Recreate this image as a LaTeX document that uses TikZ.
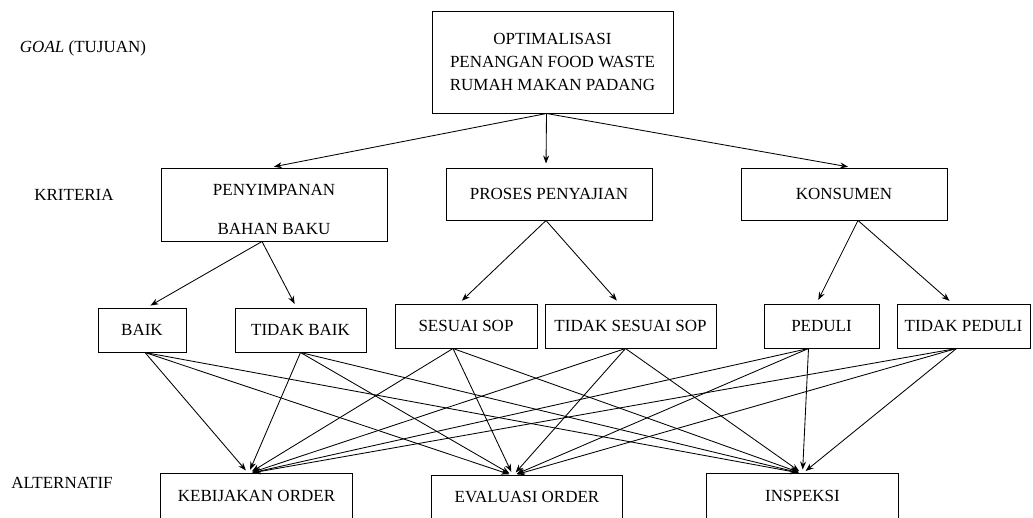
\documentclass[tikz,border=0pt]{standalone}
\usepackage{fontspec}
\setmainfont{Liberation Serif}
\usetikzlibrary{arrows.meta}

\tikzset{
  box/.style={draw, line width=1pt, inner sep=0pt, align=center,
    font=\fontsize{17}{23}\selectfont},
  lvl/.style={font=\fontsize{17}{23}\selectfont},
  link/.style={-{Stealth[length=8pt,width=6pt]}, line width=0.85pt, shorten >=4pt},
}

\begin{document}
\begin{tikzpicture}[x=1pt,y=-1pt]
  \useasboundingbox (0,0) rectangle (1033,517);

  % level names
  \node[lvl] (lgoal) at (83,48)  {\textit{GOAL} (TUJUAN)};
  \node[lvl] (lkrit) at (74,195) {KRITERIA};
  \node[lvl] (lalt)  at (62,483) {ALTERNATIF};

  % goal and criteria
  \node[box,minimum width=241pt,minimum height=102pt] (goal) at (552.5,62)
    {OPTIMALISASI\\PENANGAN FOOD WASTE\\RUMAH MAKAN PADANG};
  \node[box,minimum width=226pt,minimum height=73pt] (pbb) at (274,204.5)
    {\rule{0pt}{22pt}PENYIMPANAN\\[16pt]BAHAN BAKU};
  \node[box,minimum width=206pt,minimum height=52pt] (pp)   at (549,194) {PROSES PENYAJIAN};
  \node[box,minimum width=206pt,minimum height=52pt] (kons) at (844,194) {KONSUMEN};

  % sub criteria
  \node[box,minimum width=88pt, minimum height=44pt] (baik)    at (142,330)   {BAIK};
  \node[box,minimum width=131pt,minimum height=44pt] (tbaik)   at (300.5,330) {TIDAK BAIK};
  \node[box,minimum width=142pt,minimum height=44pt] (sesuai)  at (466,326)   {SESUAI SOP};
  \node[box,minimum width=171pt,minimum height=44pt] (tsesuai) at (630.5,326) {TIDAK SESUAI SOP};
  \node[box,minimum width=115pt,minimum height=44pt] (peduli)  at (821.5,326) {PEDULI};
  \node[box,minimum width=133pt,minimum height=44pt] (tpeduli) at (963.5,326) {TIDAK PEDULI};

  % alternatives (cut off at the bottom)
  \node[box,draw=none,minimum width=191pt,minimum height=43pt] (kb)  at (256.5,495.5) {KEBIJAKAN ORDER};
  \node[box,draw=none,minimum width=190pt,minimum height=41pt] (eo)  at (527,496.5)   {EVALUASI ORDER};
  \node[box,draw=none,minimum width=191pt,minimum height=43pt] (ins) at (802.5,495.5) {INSPEKSI};
  \foreach \n in {kb,eo,ins}
    \draw[line width=1pt] (\n.south west) |- (\n.north east) -- (\n.south east);

  \path[link]
    ([xshift=-6pt]goal.south) edge ([xshift=-4pt]pbb.north)
                              edge ([xshift=-3pt]pp.north)
                              edge ([xshift=8pt]kons.north)
    ([xshift=-12pt]pbb.south) edge ([xshift=5pt]baik.north)
                              edge ([xshift=-4pt]tbaik.north)
    ([xshift=-3pt]pp.south)   edge ([xshift=-7pt]sesuai.north)
                              edge ([xshift=-11pt]tsesuai.north)
    ([xshift=14pt]kons.south) edge ([xshift=-5pt]peduli.north)
                              edge ([xshift=-11pt]tpeduli.north);

  % every sub criterion to every alternative
  \coordinate (baik-o)    at ([xshift=3pt]baik.south);
  \coordinate (tbaik-o)   at (tbaik.south);
  \coordinate (sesuai-o)  at ([xshift=-13pt]sesuai.south);
  \coordinate (tsesuai-o) at ([xshift=-5pt]tsesuai.south);
  \coordinate (peduli-o)  at ([xshift=-13pt]peduli.south);
  \coordinate (tpeduli-o) at ([xshift=-7pt]tpeduli.south);
  \coordinate (kb-i)  at ([xshift=-8pt]kb.north);
  \coordinate (eo-i)  at ([xshift=-14pt]eo.north);
  \coordinate (ins-i) at (ins.north);
  \foreach \s in {baik,tbaik,sesuai,tsesuai,peduli,tpeduli}
    \foreach \t in {kb,eo,ins}
      \draw[link] (\s-o) -- (\t-i);
\end{tikzpicture}
\end{document}
